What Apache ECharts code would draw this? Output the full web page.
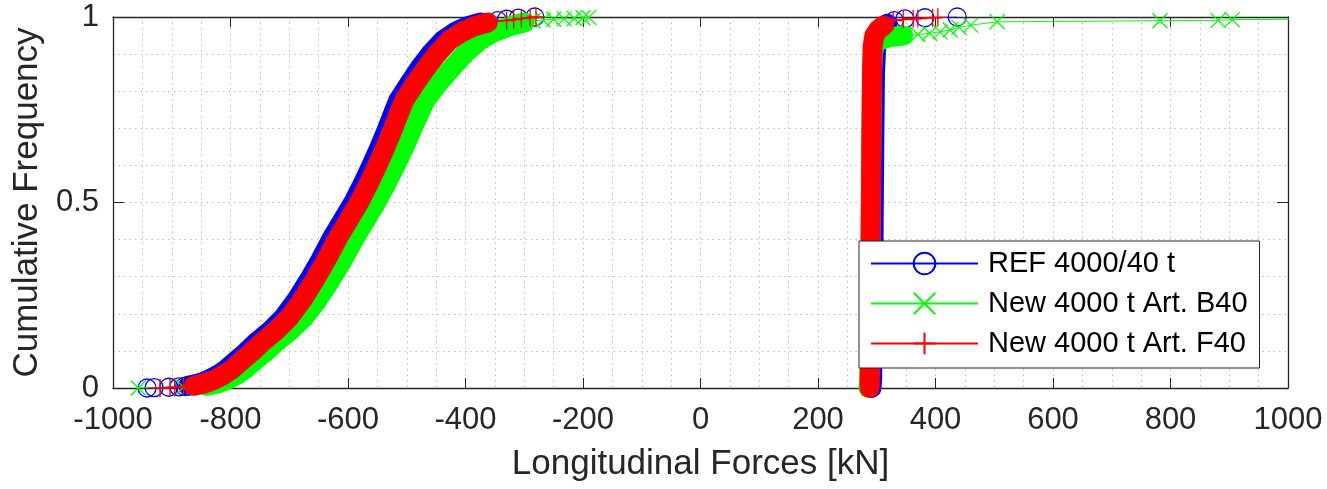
<!DOCTYPE html>
<html>
<head>
<meta charset="utf-8">
<script src="https://cdn.jsdelivr.net/npm/echarts/dist/echarts.min.js"></script>
<style>
html,body{margin:0;padding:0;background:#fff;}
#main{width:1327px;height:489px;}
</style>
</head>
<body>
<div id="main"></div>
<script>
// legend names
var seriesNames = ['REF 4000/40 t', 'New 4000 t Art. B40', 'New 4000 t Art. F40'];

// REF 4000/40 t (blue) - compression side
var refLowTail = [[-942,0],[-930,0.001],[-905,0.002],[-888,0.003],[-878,0.004]];
var refBody = [[-872,0.006],[-855,0.012],[-838,0.022],[-822,0.035],[-808,0.05],[-795,0.068],[-775,0.095],[-755,0.125],[-732,0.155],[-710,0.19],[-688,0.237],[-667,0.29],[-647,0.345],[-627,0.405],[-608,0.455],[-591,0.5],[-575,0.55],[-560,0.6],[-546,0.65],[-533,0.7],[-522,0.745],[-514,0.776],[-496,0.82],[-477,0.865],[-460,0.9],[-438,0.938],[-417,0.96],[-397,0.975],[-375,0.985]];
var refHighTail = [[-345,0.99],[-330,0.994],[-310,0.997],[-282,1]];
// REF - tension side
var refRightBody = [[291,0],[292,0.02],[293,0.1],[294,0.3],[295,0.5],[296,0.7],[297,0.85],[299,0.92],[302,0.955],[308,0.972],[318,0.982]];
var refRightTail = [[330,0.99],[348,0.995],[382,0.998],[437,1]];

// New 4000 t Art. B40 (green)
var b40LowTail = [[-957,0],[-880,0.002],[-862,0.003],[-850,0.004]];
var b40Body = [[-840,0.006],[-822,0.012],[-805,0.022],[-790,0.035],[-776,0.05],[-763,0.068],[-742,0.095],[-721,0.125],[-698,0.155],[-675,0.19],[-652,0.237],[-630,0.29],[-609,0.345],[-588,0.405],[-569,0.455],[-552,0.5],[-535,0.55],[-519,0.6],[-504,0.65],[-490,0.7],[-477,0.745],[-468,0.776],[-447,0.82],[-422,0.865],[-402,0.9],[-375,0.938],[-350,0.96],[-325,0.975],[-300,0.985]];
var b40HighTail = [[-285,0.99],[-268,0.992],[-250,0.994],[-232,0.995],[-215,0.996],[-200,0.998],[-190,0.999]];
var b40RightBody = [[286,0],[287,0.02],[288,0.1],[289,0.3],[290,0.5],[291,0.7],[292,0.85],[294,0.91],[300,0.935],[320,0.945],[345,0.95]];
var b40RightTail = [[370,0.953],[390,0.956],[408,0.96],[425,0.965],[440,0.972],[460,0.978],[505,0.987],[782,0.99],[881,0.991],[905,0.993],[1150,0.995]];

// New 4000 t Art. F40 (red)
var f40LowTail = [[-920,0],[-903,0.001],[-895,0.002],[-880,0.003]];
var f40Body = [[-862,0.006],[-845,0.012],[-828,0.022],[-812,0.035],[-798,0.05],[-785,0.068],[-765,0.095],[-745,0.125],[-722,0.155],[-700,0.19],[-678,0.237],[-657,0.29],[-637,0.345],[-617,0.405],[-598,0.455],[-581,0.5],[-565,0.55],[-550,0.6],[-536,0.65],[-523,0.7],[-512,0.745],[-504,0.776],[-486,0.82],[-466,0.865],[-449,0.9],[-427,0.938],[-405,0.96],[-385,0.975],[-362,0.985]];
var f40HighTail = [[-330,0.99],[-318,0.993],[-305,0.996],[-290,0.998],[-280,1]];
var f40RightBody = [[288,0],[288,0.02],[289,0.1],[289,0.3],[290,0.5],[291,0.7],[292,0.85],[293,0.92],[296,0.95],[302,0.965],[312,0.977]];
var f40RightTail = [[328,0.99],[345,0.993],[362,0.995],[370,0.996],[395,0.998],[404,0.999]];

var axisColor = '#262626';
var gridColor = '#bdbdbd';
var font = 'Liberation Sans';

var symCircle = 'circle';
var symCross = 'path://M0,0L10,10M10,0L0,10';
var symPlus = 'path://M5,0L5,10M0,5L10,5';

// thin line + marker at every point (this is what the legend shows)
var mainSeries = function(name, data, color, sym, size, z){
	return {
		name: name,
		type: 'line',
		z: z,
		data: data,
		clip: true,
		silent: true,
		symbol: sym,
		symbolSize: size,
		lineStyle: {color: color, width: 1},
		itemStyle: {
			color: sym == symCircle ? 'rgba(0,0,0,0)' : color,
			borderColor: color,
			borderWidth: 1.3
		},
		emphasis: {disabled: true}
	};
}
// dense part of the curve: markers overlap into a solid band
var bandSeries = function(data, color, z){
	return {
		name: 'band',
		type: 'line',
		z: z,
		data: data,
		clip: false,
		silent: true,
		symbol: 'none',
		lineStyle: {color: color, width: 20, cap: 'round', join: 'round'},
		emphasis: {disabled: true}
	};
}

var chart = echarts.init(document.getElementById('main'));
var option = {
	animation: false,
	backgroundColor: '#fff',
	grid: {left: 113, right: 39, top: 17, bottom: 101},
	legend: {
		data: seriesNames,
		orient: 'vertical',
		left: 859,
		top: 241,
		z: 10,
		itemWidth: 107,
		itemHeight: 27,
		itemGap: 11,
		padding: [8, 12, 10, 11],
		backgroundColor: '#fff',
		borderColor: axisColor,
		borderWidth: 1,
		borderRadius: 0,
		selectedMode: false,
		textStyle: {fontFamily: font, fontSize: 29, color: '#000', padding: [0, 0, 0, 5]}
	},
	xAxis: [
		{
			type: 'value', position: 'bottom',
			min: -1000, max: 1000, interval: 200,
			name: 'Longitudinal Forces [kN]',
			nameLocation: 'middle',
			nameGap: 59,
			nameTextStyle: {fontFamily: font, fontSize: 35, color: axisColor},
			axisLine: {onZero: false, lineStyle: {color: axisColor, width: 1.3}},
			axisTick: {inside: true, length: 10, lineStyle: {color: axisColor}},
			axisLabel: {fontFamily: font, fontSize: 31, color: axisColor, margin: 17,
				formatter: function(v){ return String(v); }},
			splitLine: {show: true, lineStyle: {color: gridColor, type: [1.5, 4]}},
			minorTick: {show: false, splitNumber: 4},
			minorSplitLine: {show: true, lineStyle: {color: gridColor, type: [1.5, 4]}}
		},
		{
			type: 'value', position: 'top',
			min: -1000, max: 1000, interval: 200,
			axisLine: {onZero: false, lineStyle: {color: axisColor, width: 1.3}},
			axisTick: {inside: true, length: 10, lineStyle: {color: axisColor}},
			axisLabel: {show: false},
			splitLine: {show: false}
		}
	],
	yAxis: [
		{
			type: 'value', position: 'left',
			min: 0, max: 1, interval: 0.5,
			name: 'Cumulative Frequency',
			nameLocation: 'middle',
			nameGap: 68,
			nameTextStyle: {fontFamily: font, fontSize: 35, color: axisColor},
			axisLine: {show: true, onZero: false, lineStyle: {color: axisColor, width: 1.3}},
			axisTick: {show: true, inside: true, length: 11, lineStyle: {color: axisColor}},
			axisLabel: {fontFamily: font, fontSize: 31, color: axisColor, margin: 14},
			splitLine: {show: true, lineStyle: {color: gridColor, type: [1.5, 4]}},
			minorTick: {show: false, splitNumber: 5},
			minorSplitLine: {show: true, lineStyle: {color: gridColor, type: [1.5, 4]}}
		},
		{
			type: 'value', position: 'right',
			min: 0, max: 1, interval: 0.5,
			axisLine: {show: true, onZero: false, lineStyle: {color: axisColor, width: 1.3}},
			axisTick: {show: true, inside: true, length: 11, lineStyle: {color: axisColor}},
			axisLabel: {show: false},
			splitLine: {show: false}
		}
	],
	series: [
		bandSeries(refBody, '#0000ff', 2),
		bandSeries(refRightBody, '#0000ff', 2),
		mainSeries(seriesNames[0], refLowTail.concat(refBody, refHighTail), '#0000ff', symCircle, 18, 2),
		mainSeries(seriesNames[0], refRightBody.concat(refRightTail), '#0000ff', symCircle, 18, 2),
		bandSeries(b40Body, '#00ff00', 3),
		bandSeries(b40RightBody, '#00ff00', 3),
		mainSeries(seriesNames[1], b40LowTail.concat(b40Body, b40HighTail), '#00ff00', symCross, 15, 3),
		mainSeries(seriesNames[1], b40RightBody.concat(b40RightTail), '#00ff00', symCross, 15, 3),
		bandSeries(f40Body, '#ff0000', 4),
		bandSeries(f40RightBody, '#ff0000', 4),
		mainSeries(seriesNames[2], f40LowTail.concat(f40Body, f40HighTail), '#ff0000', symPlus, 18, 4),
		mainSeries(seriesNames[2], f40RightBody.concat(f40RightTail), '#ff0000', symPlus, 18, 4)
	]
};
chart.setOption(option);
</script>
</body>
</html>
